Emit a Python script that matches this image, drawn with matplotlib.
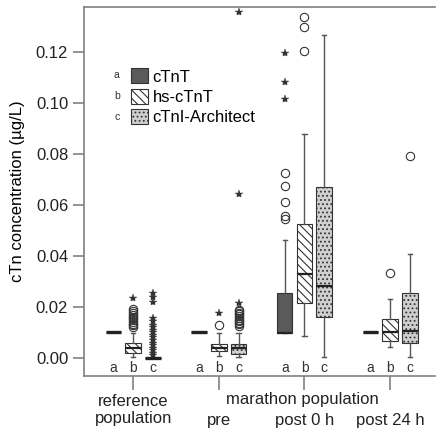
import matplotlib
matplotlib.use("Agg")
import matplotlib.pyplot as plt
import matplotlib.patches as mpatches
from matplotlib.transforms import blended_transform_factory
import numpy as np

plt.rcParams["font.family"] = ["Liberation Sans", "DejaVu Sans"]
plt.rcParams["hatch.linewidth"] = 0.8

# ── Datos ──────────────────────────────────────────────────────────────────
GROUPS = ["reference\npopulation", "pre", "post 0 h", "post 24 h"]
SUPER_LABEL = "marathon population"
ASSAYS = ["cTnT", "hs-cTnT", "cTnI-Architect"]
LETTERS = ["a", "b", "c"]

# box stats per group (rows) and assay (cols)
Q1 = [[0.010, 0.0020, 0.0], [0.010, 0.0027, 0.0016], [0.0098, 0.0216, 0.0161], [0.010, 0.0067, 0.0059]]
MED = [[0.010, 0.0039, 0.0], [0.010, 0.0039, 0.0039], [0.0098, 0.0329, 0.0282], [0.010, 0.0102, 0.0106]]
Q3 = [[0.010, 0.0059, 0.0], [0.010, 0.0055, 0.0055], [0.0255, 0.0525, 0.0671], [0.010, 0.0153, 0.0255]]
WLO = [[0.010, 0.0004, 0.0], [0.010, 0.0008, 0.0004], [0.0098, 0.0086, 0.0004], [0.010, 0.0043, 0.0004]]
WHI = [[0.010, 0.0098, 0.0], [0.010, 0.0098, 0.0098], [0.0463, 0.0878, 0.1266], [0.010, 0.0231, 0.0408]]

# outliers (circles) and extremes (stars)
CIRCLES = [
    [[], [0.0120, 0.0127, 0.0134, 0.0141, 0.0148, 0.0155, 0.0162, 0.0169, 0.0176, 0.0183, 0.0190], []],
    [[], [0.0130], [0.0125, 0.0131, 0.0137, 0.0143, 0.0150, 0.0156, 0.0163, 0.0170, 0.0176, 0.0182, 0.0188]],
    [[0.0725, 0.0675, 0.0612, 0.0557, 0.0545], [0.1337, 0.1298, 0.1204], []],
    [[], [0.0333], [0.0792]],
]
STARS = [
    [[], [0.0235], [0.0010, 0.0020, 0.0030, 0.0040, 0.0050, 0.0060, 0.0070, 0.0080, 0.0090,
                   0.0100, 0.0110, 0.0120, 0.0130, 0.0145, 0.0157, 0.0220, 0.0239, 0.0255]],
    [[], [0.0176], [0.0216, 0.0643, 0.1356]],
    [[0.1195, 0.1080, 0.1015], [], []],
    [[], [], []],
]

FACE = ["#5a5a5a", "white", "#cfcfcf"]
HATCH = [None, "\\\\\\\\", "...."]
OFFSETS = [-0.23, 0.0, 0.23]

# ── Figura ─────────────────────────────────────────────────────────────────
fig = plt.figure(figsize=(4.36, 4.32), dpi=100)
ax = fig.add_axes([0.193, 0.130, 0.805, 0.854])
AX_C = "#808080"
FS = 12

for g in range(len(GROUPS)):
    for k in range(3):
        pos = g + 1 + OFFSETS[k]
        st = dict(q1=Q1[g][k], med=MED[g][k], q3=Q3[g][k],
                  whislo=WLO[g][k], whishi=WHI[g][k], fliers=CIRCLES[g][k])
        flat = Q1[g][k] == Q3[g][k]
        ax.bxp([st], positions=[pos], widths=0.18, patch_artist=True,
               showfliers=True, capwidths=[0.05],
               boxprops=dict(facecolor=FACE[k], hatch=HATCH[k], edgecolor="#333333", linewidth=0.8),
               medianprops=dict(color="#222222", linewidth=2.4 if flat else 1.6),
               whiskerprops=dict(color="#555555", linewidth=1.0),
               capprops=dict(color="#555555", linewidth=1.0),
               flierprops=dict(marker="o", markerfacecolor="none", markeredgecolor="#333333",
                               markersize=6, markeredgewidth=0.8))
        if STARS[g][k]:
            ax.plot([pos] * len(STARS[g][k]), STARS[g][k], ls="none", marker="*",
                    color="#333333", markersize=6, markeredgewidth=0.3)
        ax.text(pos, -0.0038, LETTERS[k], ha="center", va="center", fontsize=10, color="#333333")

ax.set_xlim(0.428, 4.525)
ax.set_ylim(-0.00706, 0.1376)
ax.set_xticks([1, 2, 3, 4])
ax.set_xticklabels(GROUPS, fontsize=FS, linespacing=1.15)
yt = np.arange(0, 0.121, 0.02)
ax.set_yticks(yt)
ax.set_yticklabels([f"{v:.2f}" for v in yt], fontsize=FS)
ax.set_ylabel("cTn concentration (µg/L)", fontsize=FS, labelpad=8)

ax.spines["right"].set_visible(False)
for s in ["left", "top", "bottom"]:
    ax.spines[s].set_color(AX_C)
    ax.spines[s].set_linewidth(1.2)
ax.tick_params(axis="both", colors="#222222", length=8, width=1.2, color=AX_C)
ax.tick_params(axis="x", length=10, pad=3)
# second-line labels for the marathon groups
for t in ax.xaxis.get_major_ticks()[1:]:
    t.set_pad(3 + 14)
trans = blended_transform_factory(ax.transData, ax.transAxes)
ax.annotate(SUPER_LABEL, xy=(2.97, 0), xycoords=trans, xytext=(0, -11.5), textcoords="offset points",
            ha="center", va="top", fontsize=FS, color="#222222")

# Leyenda
handles = [mpatches.Patch(facecolor=FACE[k], hatch=HATCH[k], edgecolor="#333333", linewidth=0.8,
                          label=ASSAYS[k]) for k in range(3)]
leg = ax.legend(handles=handles, loc="upper left", bbox_to_anchor=(0.10, 0.865), frameon=False,
                fontsize=FS, handlelength=1.0, handleheight=1.0, handletextpad=0.3,
                labelspacing=0.25, borderpad=0.2)
for k in range(3):
    ax.text(0.093, 0.815 - k * 0.057, LETTERS[k], transform=ax.transAxes,
            ha="center", va="center", fontsize=7.5, color="#333333")

fig.savefig("out.png", dpi=100)
